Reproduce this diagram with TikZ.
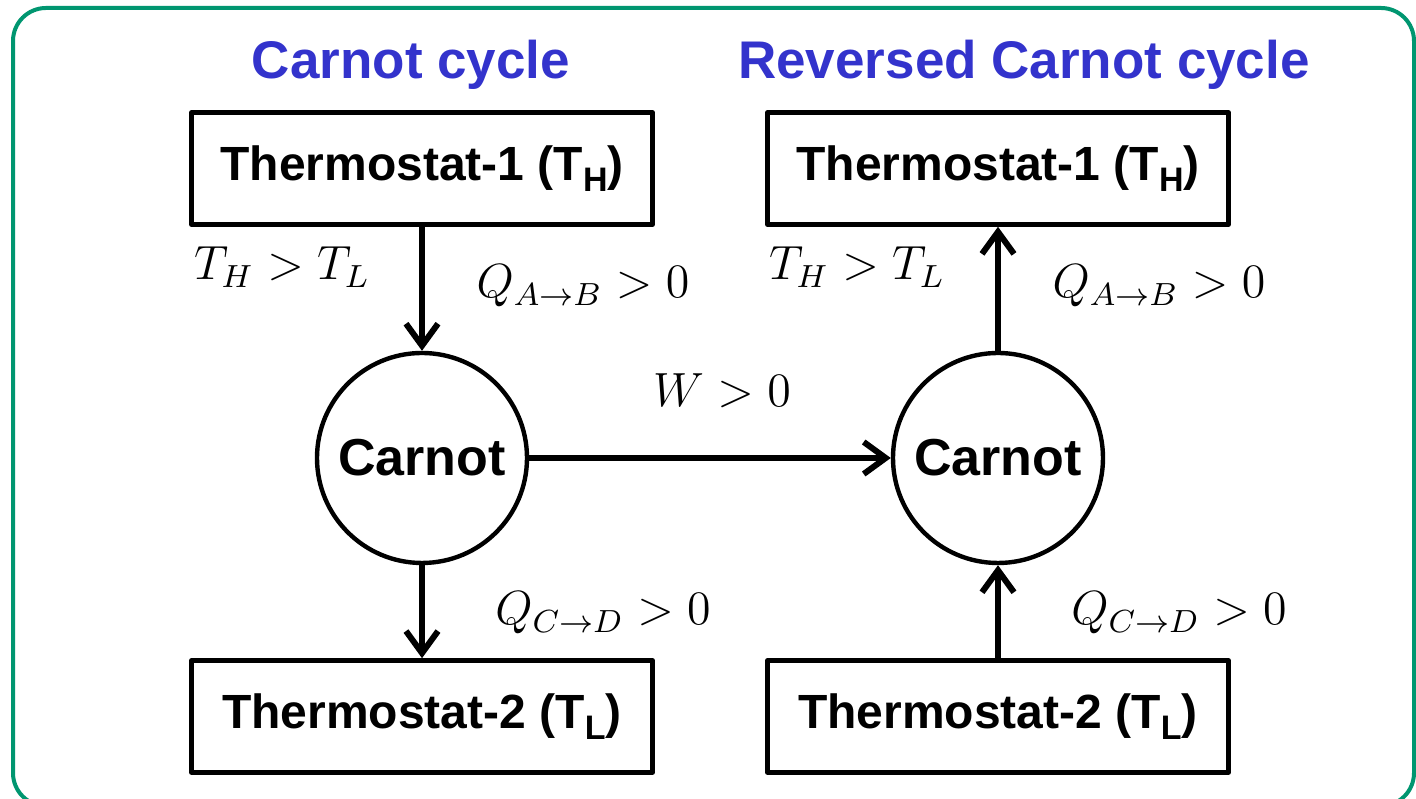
\documentclass[tikz,border=0pt]{standalone}
\usepackage{fontspec}
\setsansfont{Liberation Sans}
\usetikzlibrary{positioning,arrows.meta}
\definecolor{FrameGreen}{RGB}{0,150,112}
\definecolor{TitleBlue}{RGB}{51,51,204}
\newcommand\lowsub[1]{\raisebox{-0.45ex}{\fontsize{8.5}{9}\selectfont #1}}

\begin{document}
\begin{tikzpicture}[x=0.25pt, y=-0.25pt, line join=round,
    every node/.style={align=center},
    tbox/.style={draw, line width=1.1pt, minimum width=115.25pt, minimum height=28pt, inner sep=0pt,
                 font=\sffamily\bfseries\fontsize{12}{14.5}\selectfont},
    engine/.style={draw, circle, line width=1.1pt, minimum size=52.5pt, inner sep=0pt,
                 font=\sffamily\bfseries\fontsize{13}{15}\selectfont},
    heading/.style={text=TitleBlue, anchor=base, font=\sffamily\bfseries\fontsize{13.25}{15.5}\selectfont},
    lbl/.style={anchor=base, inner sep=0pt, font=\fontsize{12}{14}\selectfont},
    flow/.style={-{Straight Barb[length=5.5pt,width=8pt]}, line width=1.5pt, line cap=round}]
  \useasboundingbox (0,0) rectangle (1416,799);
  \draw[FrameGreen, line width=1pt, rounded corners=8.25pt] (13,8) rectangle (1414,806);

  % titles
  \node[heading] (tfwd) at (411,79) {Carnot cycle};
  \node[heading] (trev) at (1024,79) {Reversed Carnot cycle};

  % engines and reservoirs
  \node[engine] (cL) at (422,458) {Carnot};
  \node[engine] (cR) at (998,458) {Carnot};
  \node[tbox, above=31pt of cL] (hotL) {Thermostat-1 (T\lowsub{H})};
  \node[tbox, below=23.25pt of cL] (coldL) {Thermostat-2 (T\lowsub{L})};
  \node[tbox, above=31pt of cR] (hotR) {Thermostat-1 (T\lowsub{H})};
  \node[tbox, below=23.25pt of cR] (coldR) {Thermostat-2 (T\lowsub{L})};

  \draw[flow] (hotL) -- (cL);
  \draw[flow] (cL) -- (coldL);
  \draw[flow] (cL) -- (cR);
  \draw[flow] (cR) -- (hotR);
  \draw[flow] (coldR) -- (cR);

  % labels
  \node[lbl] (tempL) at (282,280) {$T_H > T_L$};
  \node[lbl] (qabL) at (583,298) {$Q_{A\to B} > 0$};
  \node[lbl] (tempR) at (857,280) {$T_H > T_L$};
  \node[lbl] (qabR) at (1159,298) {$Q_{A\to B} > 0$};
  \node[lbl] (work) at (722,407) {$W > 0$};
  \node[lbl] (qcdL) at (603,625) {$Q_{C\to D} > 0$};
  \node[lbl] (qcdR) at (1179,625) {$Q_{C\to D} > 0$};
\end{tikzpicture}
\end{document}
